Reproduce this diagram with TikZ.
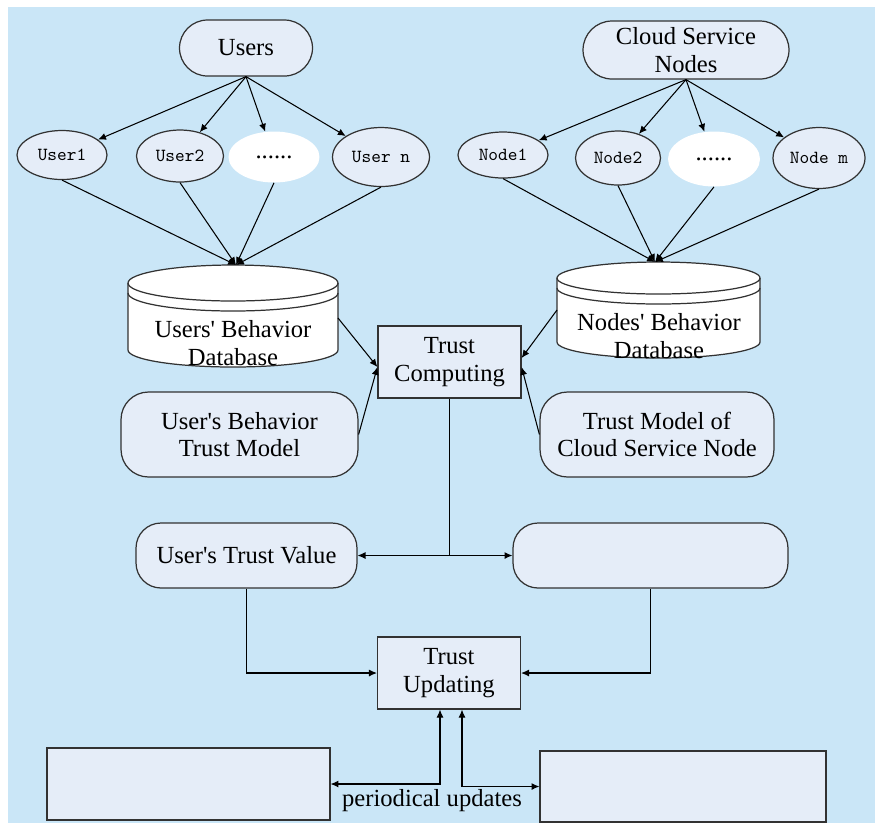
\documentclass[tikz,border=0pt]{standalone}
\usepackage{fontspec}
\setmainfont{Liberation Serif}[Ligatures=TeXOff]
\usepackage{tikz}
\usetikzlibrary{arrows.meta, positioning, shapes.geometric, shapes.misc, calc}
\definecolor{bgblue}{RGB}{202,230,247}
\definecolor{boxfill}{RGB}{229,237,248}
\definecolor{edge}{RGB}{50,50,50}

\begin{document}
\begin{tikzpicture}[x=0.02cm, y=0.02cm,
    >={Latex[length=4.5pt,width=4pt]},
    txt/.style={font=\fontsize{14}{15.5}\selectfont, align=center},
    pill/.style={rounded rectangle, draw=edge, fill=boxfill, line width=0.7pt, inner sep=0pt, txt},
    member/.style={ellipse, draw=edge, fill=boxfill, line width=0.7pt, inner sep=0pt, font=\ttfamily\fontsize{10.5}{12}\selectfont},
    blank/.style={ellipse, fill=white, inner sep=0pt, txt},
    box/.style={rectangle, draw=edge, fill=boxfill, line width=0.7pt, inner sep=0pt, txt},
    soft/.style={box, rounded corners=0.55cm},
    conn/.style={->, line width=0.6pt, black},
    dbline/.style={draw=edge, line width=0.7pt}]
    \useasboundingbox (0,0) rectangle (875,-823);
    \fill[bgblue] (8,-7) rectangle (875,-823);

    \node[pill, minimum width=2.66cm, minimum height=1.12cm] (users) at (246,-48) {Users};
    \node[pill, minimum width=4.12cm, minimum height=1.16cm] (cloud) at (686,-50) {Cloud Service\\Nodes};

    \node[member, minimum width=1.80cm, minimum height=0.98cm] (u1) at (62,-155) {User1};
    \node[member, minimum width=1.74cm, minimum height=1.04cm] (u2) at (180,-156) {User2};
    \node[blank, minimum width=1.82cm, minimum height=1.02cm] (udots) at (274,-157) {......};
    \node[member, minimum width=1.94cm, minimum height=1.18cm] (un) at (381,-157) {User n};

    \node[member, minimum width=1.80cm, minimum height=0.92cm] (n1) at (503,-155) {Node1};
    \node[member, minimum width=1.70cm, minimum height=1.08cm] (n2) at (618,-158) {Node2};
    \node[blank, minimum width=1.84cm, minimum height=1.10cm] (ndots) at (714,-159) {......};
    \node[member, minimum width=1.84cm, minimum height=1.22cm] (nm) at (819,-158) {Node m};

    \filldraw[fill=white, dbline] (128,-283) -- (128,-350)
        arc[start angle=180, end angle=360, x radius=105, y radius=17] -- (338,-283)
        arc[start angle=0, end angle=180, x radius=105, y radius=18] -- cycle;
    \draw[dbline] (128,-283) arc[start angle=180, end angle=360, x radius=105, y radius=18];
    \draw[dbline] (128,-293) arc[start angle=180, end angle=360, x radius=105, y radius=18];
    \node[txt] (udb) at (233,-343) {Users' Behavior\\Database};
    \coordinate (udbtop) at (236,-265);
    \coordinate (udbright) at (338,-318);

    \filldraw[fill=white, dbline] (557,-278) -- (557,-342)
        arc[start angle=180, end angle=360, x radius=101.5, y radius=16] -- (760,-278)
        arc[start angle=0, end angle=180, x radius=101.5, y radius=16] -- cycle;
    \draw[dbline] (557,-278) arc[start angle=180, end angle=360, x radius=101.5, y radius=16];
    \draw[dbline] (557,-288) arc[start angle=180, end angle=360, x radius=101.5, y radius=16];
    \node[txt] (ndb) at (659,-336) {Nodes' Behavior\\Database};
    \coordinate (ndbtop) at (655,-262);
    \coordinate (ndbleft) at (557,-310);

    \node[box, minimum width=2.86cm, minimum height=1.44cm] (comp) at (449.5,-362) {Trust\\Computing};
    \node[soft, minimum width=4.74cm, minimum height=1.7cm] (umodel) at (239.5,-434.5) {User's Behavior\\Trust Model};
    \node[soft, minimum width=4.68cm, minimum height=1.7cm] (nmodel) at (657,-434.5) {Trust Model of\\Cloud Service Node};

    \node[soft, rounded corners=0.5cm, minimum width=4.42cm, minimum height=1.3cm] (utrust) at (246.5,-555.5) {User's Trust Value};
    \node[soft, rounded corners=0.5cm, minimum width=5.5cm, minimum height=1.3cm] (ntrust) at (650.5,-555.5) {};

    \node[box, minimum width=2.86cm, minimum height=1.44cm] (upd) at (449,-673) {Trust\\Updating};
    \node[box, minimum width=5.66cm, minimum height=1.44cm] (bl) at (188.5,-784) {};
    \node[box, minimum width=5.72cm, minimum height=1.42cm] (br) at (683,-786.5) {};
    \node[txt] (period) at (432,-801) {periodical updates};

    \foreach \m in {u1,u2,udots,un} {
        \draw[conn] (users.south) -- (\m);
        \draw[conn] (\m.south) -- (udbtop);
    }
    \foreach \m in {n1,n2,ndots,nm} {
        \draw[conn] (cloud.south) -- (\m);
        \draw[conn] (\m.south) -- (ndbtop);
    }

    \draw[conn] (udbright) -- ($(comp.west)+(0,-5)$);
    \draw[conn] (umodel.east) -- ($(comp.west)+(0,-5)$);
    \draw[conn] (ndbleft) -- ($(comp.east)+(0,4)$);
    \draw[conn] (nmodel.west) -- ($(comp.east)+(0,-5)$);

    \coordinate (split) at (comp.south |- utrust.east);
    \draw[line width=0.6pt] (comp.south) -- (split);
    \draw[conn] (split) -- (utrust.east);
    \draw[conn] (split) -- (ntrust.west);

    \draw[conn] (utrust.south) |- (upd.west);
    \draw[conn] (ntrust.south) |- (upd.east);
    \draw[conn, <->] ($(upd.south)+(-9,0)$) |- (bl.east);
    \draw[conn, <->] ($(upd.south)+(13,0)$) |- (br.west);
\end{tikzpicture}
\end{document}
